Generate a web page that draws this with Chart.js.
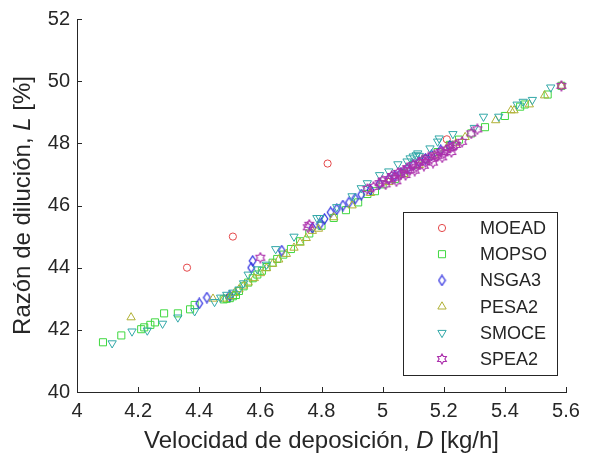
<!DOCTYPE html>
<html><head><meta charset="utf-8">
<script src="https://cdn.jsdelivr.net/npm/chart.js@4"></script>
<style>html,body{margin:0;padding:0;background:#fff}#wrap{width:593px;height:462px;position:relative}</style>
</head><body><div id="wrap"><canvas id="c"></canvas></div>
<script>
const seriesNames = ['MOEAD','MOPSO','NSGA3','PESA2','SMOCE','SPEA2'];
const xTickValues = [4,4.2,4.4,4.6,4.8,5,5.2,5.4,5.6];
const yTickValues = [40,42,44,46,48,50,52];

const moead = [[4.36,44.0],[4.51,45.0],[4.82,47.35],[5.21,48.13],[5.585,49.85]];
const mopso = [[4.085,41.6],[4.145,41.82],[4.21,42.02],[4.22,42.08],[4.24,42.16],[4.255,42.24],[4.285,42.53],[4.33,42.53],[4.37,42.66],[4.385,42.8],[4.48,42.98],[4.49,43.0],[4.50,43.02],[4.51,43.08],[4.52,43.12],[4.53,43.25],[4.545,43.4],[4.56,43.52],[4.575,43.66],[4.59,43.78],[4.605,43.9],[4.62,44.02],[4.64,44.16],[4.655,44.28],[4.675,44.42],[4.70,44.6],[4.73,44.85],[4.76,45.1],[4.80,45.35],[4.84,45.6],[4.88,45.85],[4.92,46.1],[4.95,46.37],[4.975,46.46],[5.0,46.68],[5.04,46.85],[5.07,47.05],[5.10,47.3],[5.14,47.5],[5.18,47.72],[5.22,47.95],[5.25,48.12],[5.29,48.32],[5.335,48.52],[5.40,48.88],[5.45,49.18],[5.465,49.25],[5.54,49.57],[5.585,49.85]];
const nsga3 = [[4.40,42.85],[4.425,43.04],[4.5,43.1],[4.57,44.0],[4.575,44.22],[4.67,44.55],[4.77,45.28],[4.795,45.4],[4.81,45.57],[4.83,45.78],[4.85,45.88],[4.87,46.0],[4.89,46.1],[4.91,46.22],[4.93,46.35],[4.96,46.5],[4.99,46.7],[5.02,46.85],[5.04,46.95],[5.06,47.05],[5.08,47.18],[5.10,47.3],[5.12,47.4],[5.14,47.5],[5.16,47.62],[5.19,47.78],[5.22,47.92]];
const pesa2 = [[4.177,42.4],[4.445,43.0],[4.48,43.0],[4.50,43.08],[4.515,43.18],[4.53,43.3],[4.545,43.42],[4.56,43.52],[4.58,43.66],[4.60,43.82],[4.62,43.98],[4.64,44.12],[4.66,44.26],[4.685,44.44],[4.71,44.64],[4.73,44.8],[4.75,44.95],[4.77,45.18],[4.79,45.25],[4.84,45.62],[4.90,46.0],[4.96,46.4],[5.02,46.75],[5.07,47.0],[5.12,47.3],[5.17,47.6],[5.21,47.85],[5.24,48.0],[5.27,48.2],[5.37,48.74],[5.42,49.06],[5.43,49.06],[5.48,49.25],[5.53,49.54],[5.585,49.85]];
const smoce = [[4.115,41.57],[4.18,41.95],[4.23,41.98],[4.28,42.2],[4.33,42.4],[4.385,42.6],[4.45,42.9],[4.47,43.04],[4.49,43.13],[4.51,43.2],[4.53,43.3],[4.545,43.5],[4.56,43.78],[4.59,43.95],[4.62,44.1],[4.65,44.6],[4.71,45.0],[4.785,45.6],[4.795,45.6],[4.85,45.95],[4.90,46.3],[4.93,46.56],[4.95,46.72],[4.99,46.98],[5.02,47.1],[5.05,47.33],[5.08,47.42],[5.09,47.52],[5.10,47.58],[5.11,47.62],[5.115,47.68],[5.12,47.6],[5.155,47.84],[5.18,48.06],[5.185,48.16],[5.23,48.3],[5.30,48.5],[5.33,48.86],[5.38,48.86],[5.44,49.25],[5.46,49.34],[5.49,49.4],[5.55,49.8]];
const spea2 = [[4.60,44.32],[4.755,45.3],[4.76,45.38],[4.95,46.53],[4.97,46.6],[4.99,46.72],[5.00,46.8],[5.01,46.68],[5.02,46.85],[5.03,46.95],[5.04,46.9],[5.045,46.78],[5.05,47.05],[5.06,47.0],[5.07,47.12],[5.075,46.98],[5.08,47.2],[5.09,47.15],[5.10,47.3],[5.105,47.12],[5.11,47.25],[5.12,47.38],[5.13,47.45],[5.135,47.28],[5.14,47.4],[5.15,47.55],[5.16,47.5],[5.165,47.38],[5.17,47.62],[5.18,47.6],[5.19,47.72],[5.195,47.55],[5.20,47.68],[5.21,47.8],[5.22,47.85],[5.225,47.72],[5.23,47.9],[5.24,47.95],[5.26,48.05],[5.29,48.32],[5.31,48.45],[5.585,49.85]];

const seriesData = [moead, mopso, nsga3, pesa2, smoce, spea2];
const colors = ['#e4484a','#3fd83f','#2e2ee0','#b0b034','#32a8a8','#ac30ac'];

function makeDiamond(color){
  const c=document.createElement('canvas'); c.width=9; c.height=12;
  const g=c.getContext('2d'); g.strokeStyle=color; g.lineWidth=1.25;
  g.beginPath(); g.moveTo(4.5,1); g.lineTo(7.8,6); g.lineTo(4.5,11); g.lineTo(1.2,6); g.closePath(); g.stroke();
  return c;
}
function makeHexagram(color){
  const c=document.createElement('canvas'); c.width=12; c.height=12;
  const g=c.getContext('2d'); g.strokeStyle=color; g.lineWidth=1.15;
  const R=5, r=R/Math.sqrt(3); g.beginPath();
  for(let k=0;k<12;k++){const a=(-90+k*30)*Math.PI/180; const rr=k%2?r:R; const px=6+rr*Math.cos(a), py=6+rr*Math.sin(a); if(k) g.lineTo(px,py); else g.moveTo(px,py);}
  g.closePath(); g.stroke(); return c;
}
const styles = [
  {pointStyle:'circle', radius:3.6, rotation:0},
  {pointStyle:'rect', radius:5, rotation:0},
  {pointStyle:makeDiamond(colors[2]), radius:5, rotation:0},
  {pointStyle:'triangle', radius:4.8, rotation:0},
  {pointStyle:'triangle', radius:4.8, rotation:180},
  {pointStyle:makeHexagram(colors[5]), radius:5, rotation:0}
];

const FONT = "'Liberation Sans', Arial, Helvetica, sans-serif";
const TXT = '#262626';

const datasets = seriesNames.map((n,i)=>({
  label:n,
  data: seriesData[i].map(p=>({x:p[0], y:p[1]})),
  pointStyle: styles[i].pointStyle,
  pointRadius: styles[i].radius,
  pointRotation: styles[i].rotation,
  borderColor: colors[i],
  backgroundColor: 'rgba(0,0,0,0)',
  pointBorderWidth: 1,
  showLine:false,
  clip:false,
  order: seriesNames.length - i
}));

const extras = {
  id:'extras',
  afterDraw(chart){
    const {ctx, chartArea:a, scales:{x,y}} = chart;
    ctx.save();
    ctx.strokeStyle = TXT; ctx.lineWidth = 1;
    ctx.beginPath();
    x.ticks.forEach(t=>{const px=Math.round(x.getPixelForValue(t.value))+0.5; ctx.moveTo(px,a.bottom); ctx.lineTo(px,a.bottom-5);});
    y.ticks.forEach(t=>{const py=Math.round(y.getPixelForValue(t.value))+0.5; ctx.moveTo(a.left,py); ctx.lineTo(a.left+5,py);});
    ctx.stroke();

    function drawMixed(parts, cx, cy){
      let w=0; parts.forEach(p=>{ctx.font=(p[1]?'italic ':'')+'24px '+FONT; p.w=ctx.measureText(p[0]).width; w+=p.w;});
      let xx=cx-w/2; ctx.textBaseline='middle'; ctx.textAlign='left'; ctx.fillStyle=TXT;
      parts.forEach(p=>{ctx.font=(p[1]?'italic ':'')+'24px '+FONT; ctx.fillText(p[0], xx, cy); xx+=p.w;});
    }
    drawMixed([['Velocidad de deposición, ',false],['D',true],[' [kg/h]',false]], (a.left+a.right)/2, 441);
    ctx.save(); ctx.translate(23,(a.top+a.bottom)/2); ctx.rotate(-Math.PI/2);
    drawMixed([['Razón de dilución, ',false],['L',true],[' [%]',false]], 0, 0);
    ctx.restore();

    const bx=403, by=212, bw=154, bh=163;
    ctx.fillStyle='#fff'; ctx.fillRect(bx,by,bw,bh);
    ctx.strokeStyle='#262626'; ctx.lineWidth=1; ctx.strokeRect(bx+0.5,by+0.5,bw,bh);
    ctx.font='18px '+FONT; ctx.textBaseline='middle'; ctx.textAlign='left';
    chart.data.datasets.forEach((ds,i)=>{
      const yy = by + 16 + i*26.2;
      ctx.strokeStyle = ds.borderColor; ctx.fillStyle='rgba(0,0,0,0)'; ctx.lineWidth=1;
      Chart.helpers.drawPoint(ctx, {pointStyle: ds.pointStyle, rotation: ds.pointRotation, radius: ds.pointRadius, borderWidth:1}, 442, yy);
      ctx.fillStyle = TXT; ctx.fillText(ds.label, 480, yy+1);
    });
    ctx.restore();
  }
};

new Chart(document.getElementById('c'), {
  type:'scatter',
  data:{datasets},
  options:{
    responsive:true, maintainAspectRatio:false, animation:false,
    layout:{padding:{left:0, top:17, right:27, bottom:0}},
    plugins:{legend:{display:false}, tooltip:{enabled:false}},
    scales:{
      x:{type:'linear', min:4, max:5.6,
        afterBuildTicks(s){ s.ticks = xTickValues.map(v=>({value:v})); },
        afterFit(s){ s.height = 70; },
        grid:{display:false, drawTicks:false},
        border:{display:true, color:TXT, width:1},
        ticks:{color:TXT, font:{family:FONT, size:20}, padding:7, maxRotation:0, autoSkip:false,
          callback:v=>String(Number(v.toFixed(1)))}
      },
      y:{type:'linear', min:40, max:52,
        afterBuildTicks(s){ s.ticks = yTickValues.map(v=>({value:v})); },
        afterFit(s){ s.width = 77; },
        grid:{display:false, drawTicks:false},
        border:{display:true, color:TXT, width:1},
        ticks:{color:TXT, font:{family:FONT, size:20}, padding:7, autoSkip:false,
          callback:v=>String(v)}
      }
    }
  },
  plugins:[extras]
});
</script></body></html>
